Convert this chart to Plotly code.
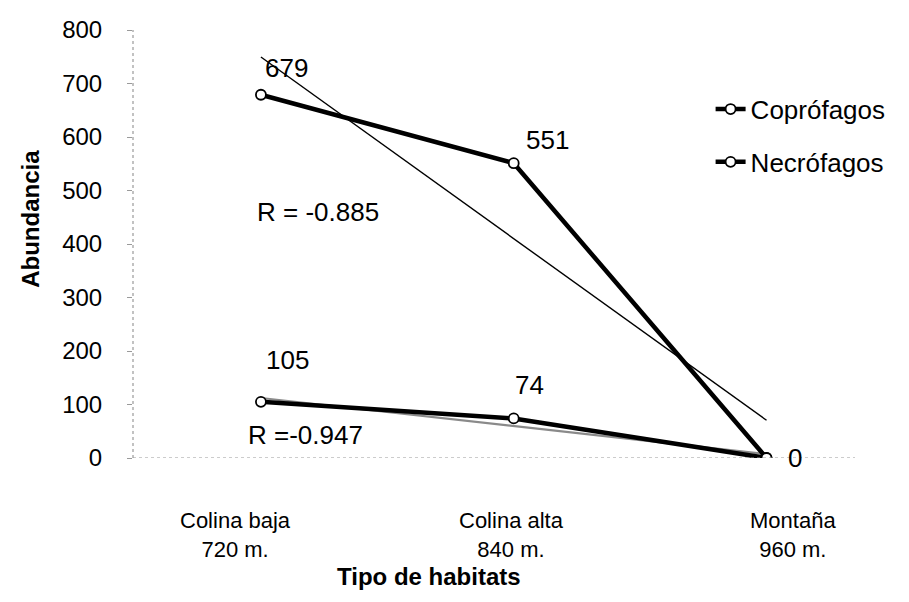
import numpy as np
import plotly.graph_objects as go

# Habitat categories (name + altitude)
habitats = ["Colina baja<br>720 m.", "Colina alta<br>840 m.", "Montaña<br>960 m."]
coprofagos = [679, 551, 0]
necrofagos = [105, 74, 0]
r_labels = {"Coprófagos": "R = -0.885", "Necrófagos": "R =-0.947"}
y_ticks = [0, 100, 200, 300, 400, 500, 600, 700, 800]

FONT = "Liberation Sans, Arial, sans-serif"
xs = np.arange(len(habitats))

fig = go.Figure()

# linear trend lines
for vals, color, width in [(coprofagos, "black", 1.4), (necrofagos, "#8a8a8a", 2.2)]:
    slope, intercept = np.polyfit(xs, vals, 1)
    fig.add_trace(go.Scatter(
        x=[xs[0], xs[-1]], y=[intercept + slope * xs[0], intercept + slope * xs[-1]],
        mode="lines", line=dict(color=color, width=width),
        showlegend=False, hoverinfo="skip"))

for name, vals in [("Coprófagos", coprofagos), ("Necrófagos", necrofagos)]:
    fig.add_trace(go.Scatter(
        x=xs, y=vals, name=name, mode="lines+markers", legendgroup=name,
        line=dict(color="black", width=4.5),
        marker=dict(symbol="circle", size=10, color="white",
                    line=dict(color="black", width=1.8))))

# value labels
label_shift = {
    "Coprófagos": [(26, 27), (34, 23), (28, 0)],
    "Necrófagos": [(27, 42), (16, 33), (28, 0)],
}
for name, vals in [("Coprófagos", coprofagos), ("Necrófagos", necrofagos)]:
    for i, v in enumerate(vals):
        if name == "Coprófagos" and v == 0:
            continue
        dx, dy = label_shift[name][i]
        fig.add_annotation(x=xs[i], y=v, text=str(v), showarrow=False,
                           xshift=dx, yshift=dy,
                           font=dict(family=FONT, size=26, color="black"))

# correlation labels
fig.add_annotation(x=xs[0], y=460, text=r_labels["Coprófagos"], showarrow=False,
                   xanchor="left", xshift=-6, font=dict(family=FONT, size=26, color="black"))
fig.add_annotation(x=xs[0], y=43, text=r_labels["Necrófagos"], showarrow=False,
                   xanchor="left", xshift=-15, font=dict(family=FONT, size=26, color="black"))

# category labels under the axis
for i, (lab, dx) in enumerate(zip(habitats, [-25, -2, 26])):
    fig.add_annotation(x=xs[i], y=0, text=lab, showarrow=False, yanchor="top",
                       xshift=dx, yshift=-48,
                       font=dict(family=FONT, size=22, color="black"))

# axis titles
fig.add_annotation(xref="paper", yref="paper", x=0.41, y=-0.24, text="<b>Tipo de habitats</b>",
                   showarrow=False, yanchor="top",
                   font=dict(family=FONT, size=24, color="black"))
fig.add_annotation(xref="paper", yref="paper", x=-0.142, y=0.56, text="<b>Abundancia</b>",
                   showarrow=False, textangle=-90, xanchor="center", yanchor="middle",
                   font=dict(family=FONT, size=24, color="black"))

# dotted axis lines
fig.add_shape(type="line", xref="paper", yref="y", x0=0, x1=1, y0=0, y1=0,
              line=dict(color="#9a9a9a", width=1.2, dash="dot"))
fig.add_shape(type="line", xref="paper", yref="paper", x0=0, x1=0, y0=0, y1=1,
              line=dict(color="#9a9a9a", width=1.2, dash="dot"))

fig.update_layout(
    width=909, height=602,
    margin=dict(l=133, r=54, t=30, b=144),
    paper_bgcolor="white", plot_bgcolor="white",
    font=dict(family=FONT, color="black"),
    legend=dict(x=0.80, y=0.87, xanchor="left", yanchor="top",
                font=dict(family=FONT, size=26, color="black"),
                tracegroupgap=16, bgcolor="rgba(0,0,0,0)", itemwidth=30),
    xaxis=dict(range=[-0.506, 2.35], showgrid=False, zeroline=False, showline=False,
               showticklabels=False, ticks=""),
    yaxis=dict(range=[0, 800], tickvals=y_ticks, showgrid=False, zeroline=False,
               showline=False, ticks="outside", ticklen=5, tickcolor="#9a9a9a",
               ticklabelstandoff=20,
               tickfont=dict(family=FONT, size=24, color="black")),
)

fig.write_html("out.html")
